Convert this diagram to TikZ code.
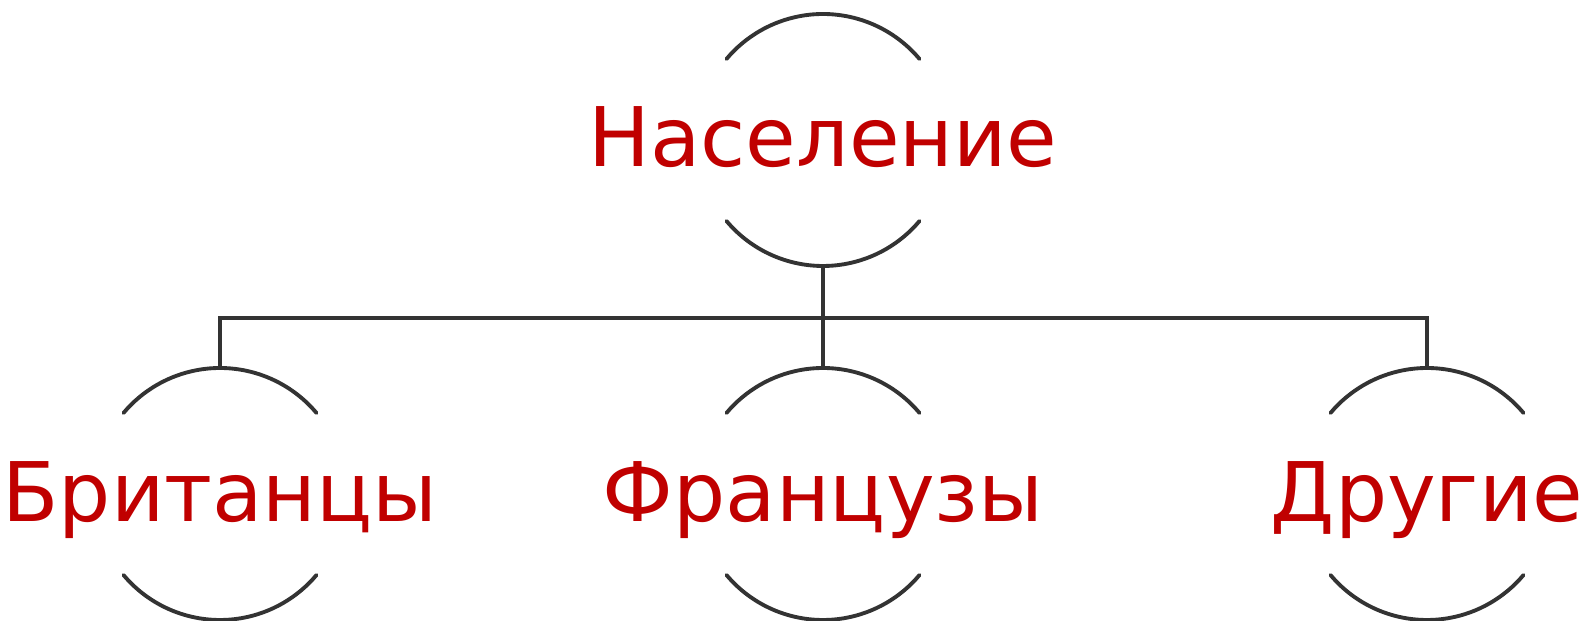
\documentclass[tikz,border=0pt]{standalone}
\usepackage{fontspec}
\setmainfont{DejaVu Sans}
\usepackage{tikz}
\usetikzlibrary{calc}
\definecolor{popred}{HTML}{C00000}
\definecolor{popink}{HTML}{333333}

\begin{document}
\begin{tikzpicture}[
  x=1cm,y=1cm,
  word/.style={anchor=base,text=popred,inner sep=0pt,
    font=\fontsize{23.4}{28}\selectfont},
  bow/.style={draw=popink,line width=1.1pt,line cap=round},
  link/.style={draw=popink,line width=1.1pt},
]
  \useasboundingbox (0,0) rectangle (15.87,6.21);

  % Centres of the bracket circles.
  \coordinate (popc)  at (8.23,4.81);
  \coordinate (britc) at (2.20,1.27);
  \coordinate (frc)   at (8.23,1.27);
  \coordinate (othc)  at (14.27,1.27);

  \node[word] (pop)  at ($(popc)+(0,-.27)$)  {Население};
  \node[word] (brit) at ($(britc)+(0,-.28)$) {Британцы};
  \node[word] (fr)   at ($(frc)+(0,-.28)$)   {Французы};
  \node[word] (oth)  at ($(othc)+(0,-.28)$)  {Другие};

  % Upper and lower bows round every word.
  \foreach \c in {popc,britc,frc,othc} {
    \draw[bow] ($(\c)+(40:1.26)$) arc[start angle=40,end angle=140,radius=1.26];
    \draw[bow] ($(\c)+(220:1.26)$) arc[start angle=220,end angle=320,radius=1.26];
  }

  \coordinate (pop-s)  at ($(popc)+(0,-1.26)$);
  \coordinate (brit-n) at ($(britc)+(0,1.26)$);
  \coordinate (fr-n)   at ($(frc)+(0,1.26)$);
  \coordinate (oth-n)  at ($(othc)+(0,1.26)$);
  \coordinate (bus)    at ($(pop-s)+(0,-.52)$);

  \draw[link] (pop-s) -- (fr-n);
  \draw[link] (brit-n) |- (bus) -| (oth-n);
\end{tikzpicture}
\end{document}
